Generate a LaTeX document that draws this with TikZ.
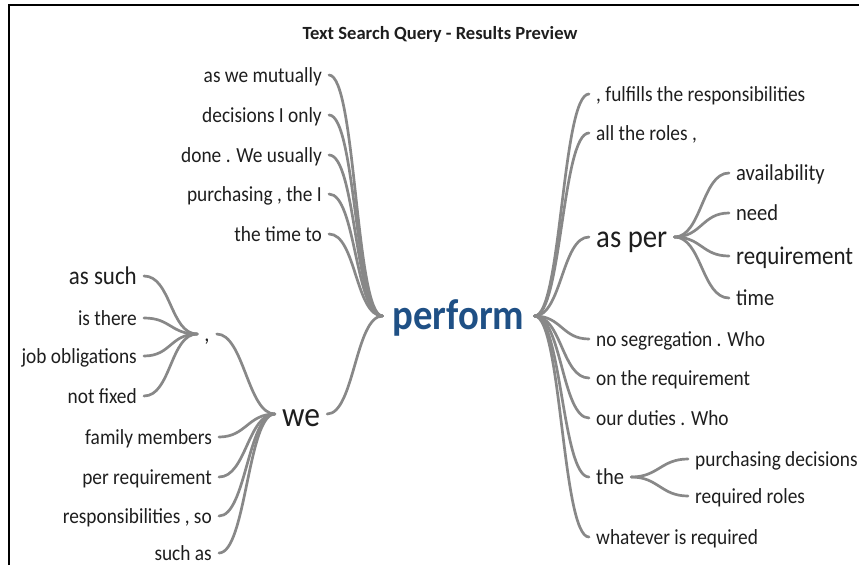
\documentclass[tikz,border=0pt]{standalone}
\usepackage{fontspec}
\setmainfont[FakeStretch=0.9]{Carlito}
\newfontfamily\titlefont{Carlito}
\definecolor{ink}{RGB}{30,30,30}
\definecolor{linkgray}{RGB}{136,136,136}
\definecolor{rootblue}{RGB}{31,80,133}
\tikzstyle{word} = [inner xsep=7pt, inner ysep=0pt, text height=16pt, text depth=2pt, text=ink, font=\fontsize{21.5}{24}\selectfont]
\tikzstyle{mid} = [text height=17pt, text depth=2.2pt, font=\fontsize{22.8}{26}\selectfont]
\tikzstyle{large} = [text height=18.5pt, text depth=2.5pt, font=\fontsize{25.5}{29}\selectfont]
\tikzstyle{big} = [text height=23pt, text depth=3pt, font=\fontsize{32}{36}\selectfont]
\tikzstyle{huge} = [text height=29pt, text depth=3.5pt, font=\fontsize{35}{40}\selectfont]
\tikzstyle{root} = [word, inner xsep=10pt, text height=31pt, text depth=4pt, text=rootblue, font=\fontsize{43}{48}\selectfont\bfseries]
\tikzstyle{link} = [draw=linkgray, line width=2.7pt, line cap=round, out=0, in=180, distance=27pt]

\begin{document}
\begin{tikzpicture}[x=1pt, y=-1pt]
    \useasboundingbox (0,0) rectangle (859,565);
    \draw[line width=2pt] (9,565) -- (9,5) -- (859,5);
    \node[text=ink](title) at (440,34){\titlefont\fontsize{18.6}{22}\selectfont\bfseries Text Search Query - Results Preview};

    \node[root](perform) at (458.5,316){perform};

    % left of the root
    \node[word,anchor=east](mutually) at (329,75){as we mutually};
    \node[word,anchor=east](decisions) at (329,115){decisions I only};
    \node[word,anchor=east](usually) at (329,155){done . We usually};
    \node[word,anchor=east](purchasing) at (329,194){purchasing , the I};
    \node[word,anchor=east](timeto) at (329,234){the time to};
    \node[word,huge](we) at (301,414){we};
    \node[word,mid](comma) at (207,334){,};
    \node[word,large,anchor=east](assuch) at (144,276){as such};
    \node[word,anchor=east](isthere) at (144,318){is there};
    \node[word,anchor=east](obligations) at (144,356){job obligations};
    \node[word,anchor=east](notfixed) at (144,396){not fixed};
    \node[word,anchor=east](family) at (219,437){family members};
    \node[word,anchor=east](perreq) at (219,477){per requirement};
    \node[word,anchor=east](respso) at (219,516){responsibilities , so};
    \node[word,anchor=east](suchas) at (219,553){such as};

    % right of the root
    \node[word,anchor=west](fulfills) at (589,94){, fulfills the responsibilities};
    \node[word,anchor=west](roles) at (589,133){all the roles ,};
    \node[word,big,anchor=west](asper) at (589,237){as per};
    \node[word,anchor=west](segregation) at (589,339){no segregation . Who};
    \node[word,anchor=west](onreq) at (589,378){on the requirement};
    \node[word,anchor=west](duties) at (589,418){our duties . Who};
    \node[word,mid,anchor=west](the) at (589,477){the};
    \node[word,anchor=west](whatever) at (589,537){whatever is required};
    \node[word,mid,anchor=west](availability) at (729,173){availability};
    \node[word,mid,anchor=west](need) at (729,213){need};
    \node[word,large,anchor=west](requirement) at (729,256){requirement};
    \node[word,mid,anchor=west](time) at (729,298){time};
    \node[word,anchor=west](purchdec) at (688,459){purchasing decisions};
    \node[word,anchor=west](reqroles) at (688,496){required roles};

    \draw[link](mutually.east) to (perform.west);
    \draw[link](decisions.east) to (perform.west);
    \draw[link](usually.east) to (perform.west);
    \draw[link](purchasing.east) to (perform.west);
    \draw[link](timeto.east) to (perform.west);
    \draw[link](we.east) to (perform.west);
    \draw[link](comma.east) to (we.west);
    \draw[link](family.east) to (we.west);
    \draw[link](perreq.east) to (we.west);
    \draw[link](respso.east) to (we.west);
    \draw[link](suchas.east) to (we.west);
    \draw[link](assuch.east) to (comma.west);
    \draw[link](isthere.east) to (comma.west);
    \draw[link](obligations.east) to (comma.west);
    \draw[link](notfixed.east) to (comma.west);

    \draw[link](perform.east) to (fulfills.west);
    \draw[link](perform.east) to (roles.west);
    \draw[link](perform.east) to (asper.west);
    \draw[link](perform.east) to (segregation.west);
    \draw[link](perform.east) to (onreq.west);
    \draw[link](perform.east) to (duties.west);
    \draw[link](perform.east) to (the.west);
    \draw[link](perform.east) to (whatever.west);
    \draw[link](asper.east) to (availability.west);
    \draw[link](asper.east) to (need.west);
    \draw[link](asper.east) to (requirement.west);
    \draw[link](asper.east) to (time.west);
    \draw[link](the.east) to (purchdec.west);
    \draw[link](the.east) to (reqroles.west);
\end{tikzpicture}
\end{document}
